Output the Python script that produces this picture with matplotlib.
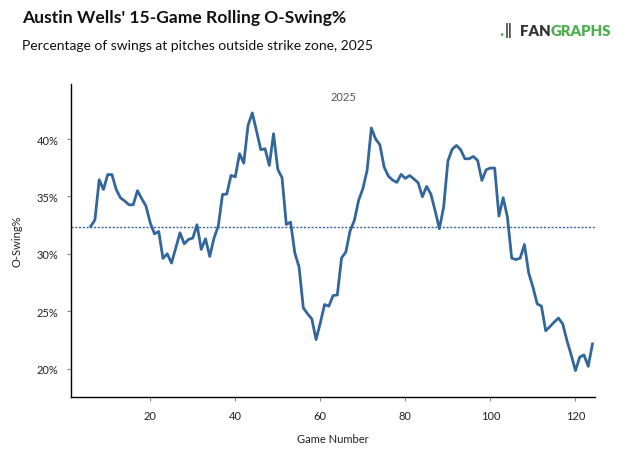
import numpy as np
import matplotlib
matplotlib.use('Agg')
import matplotlib.pyplot as plt
from matplotlib.ticker import FuncFormatter

plt.rcParams['font.family'] = ['Lato', 'DejaVu Sans']

# rolling 15-game O-Swing%, games 6..124
games = list(range(6, 125))
oswing = [
    32.38, 32.96, 36.45, 35.6, 36.9, 36.9, 35.6, 34.88, 34.6, 34.27,
    34.27, 35.5, 34.8, 34.16, 32.7, 31.74, 31.94, 29.6, 30.0, 29.19,
    30.5, 31.83, 30.87, 31.25, 31.37, 32.53, 30.38, 31.31, 29.77, 31.37,
    32.41, 35.17, 35.2, 36.83, 36.7, 38.72, 37.9, 41.19, 42.27, 40.7,
    39.07, 39.15, 37.7, 40.46, 37.35, 36.63, 32.56, 32.76, 30.09, 28.84,
    25.29, 24.77, 24.33, 22.53, 23.98, 25.58, 25.44, 26.36, 26.42, 29.65,
    30.15, 32.0, 32.9, 34.65, 35.67, 37.26, 40.96, 40.0, 39.5, 37.56,
    36.77, 36.42, 36.22, 36.92, 36.57, 36.82, 36.52, 36.19, 34.97, 35.87,
    35.2, 33.75, 32.18, 34.07, 38.08, 39.1, 39.44, 39.07, 38.28, 38.28,
    38.48, 38.13, 36.39, 37.32, 37.47, 37.47, 33.29, 34.88, 33.2, 29.62,
    29.5, 29.62, 30.81, 28.34, 27.1, 25.64, 25.44, 23.3, 23.66, 24.05,
    24.4, 23.9, 22.44, 21.19, 19.83, 21.0, 21.19, 20.2, 22.15,
]
season_avg = 32.35
xticks = [20, 40, 60, 80, 100, 120]
yticks = [20, 25, 30, 35, 40]

blue = '#33669a'

fig = plt.figure(figsize=(6.33, 4.77), dpi=100)
ax = fig.add_axes([0.1117, 0.165, 0.8283, 0.657])

ax.plot(games, oswing, color=blue, lw=2.0, solid_joinstyle='round')
ax.axhline(season_avg, color=blue, lw=1.0, ls=(0, (1.5, 1.2)))

ax.set_xlim(1.3, 124.6)
ax.set_ylim(17.5, 44.8)
ax.set_xticks(xticks)
ax.set_yticks(yticks)
ax.yaxis.set_major_formatter(FuncFormatter(lambda v, p: '%d%%' % v))

for s in ['top', 'right']:
    ax.spines[s].set_visible(False)
for s in ['left', 'bottom']:
    ax.spines[s].set_linewidth(1.0)
    ax.spines[s].set_color('black')
ax.tick_params(axis='both', length=3, width=0.8, color='#888888',
               labelsize=8, labelcolor='#222222', pad=6)

ax.set_xlabel('Game Number', fontsize=8, color='#222222', labelpad=9)
ax.set_ylabel('O-Swing%', fontsize=8, color='#222222', labelpad=10)

ax.text(0.52, 0.96, '2025', transform=ax.transAxes, ha='center', va='center',
        fontsize=8, color='#555555')

fig.text(22 / 633, 1 - 18 / 477, "Austin Wells' 15-Game Rolling O-Swing%",
         fontsize=12.6, fontweight='bold', color='#111111', va='center')
fig.text(22 / 633, 1 - 46 / 477,
         'Percentage of swings at pitches outside strike zone, 2025',
         fontsize=10, color='#111111', va='center')

# FanGraphs logo
fig.text(499 / 633, 1 - 31 / 477, '.', fontsize=13, fontweight='bold',
         color='#4caf50', va='center')
fig.text(505 / 633, 1 - 31 / 477, '\u2016', fontsize=11, fontweight='bold',
         color='#333333', va='center')
t1 = fig.text(520 / 633, 1 - 31 / 477, 'FAN', fontsize=10.8, fontweight='heavy',
              color='#333333', va='center')
fig.canvas.draw()
bb = t1.get_window_extent()
fig.text(bb.x1 / 633, 1 - 31 / 477, 'GRAPHS', fontsize=10.8,
         fontweight='heavy', color='#4caf50', va='center')

fig.savefig('out.png', dpi=100)
